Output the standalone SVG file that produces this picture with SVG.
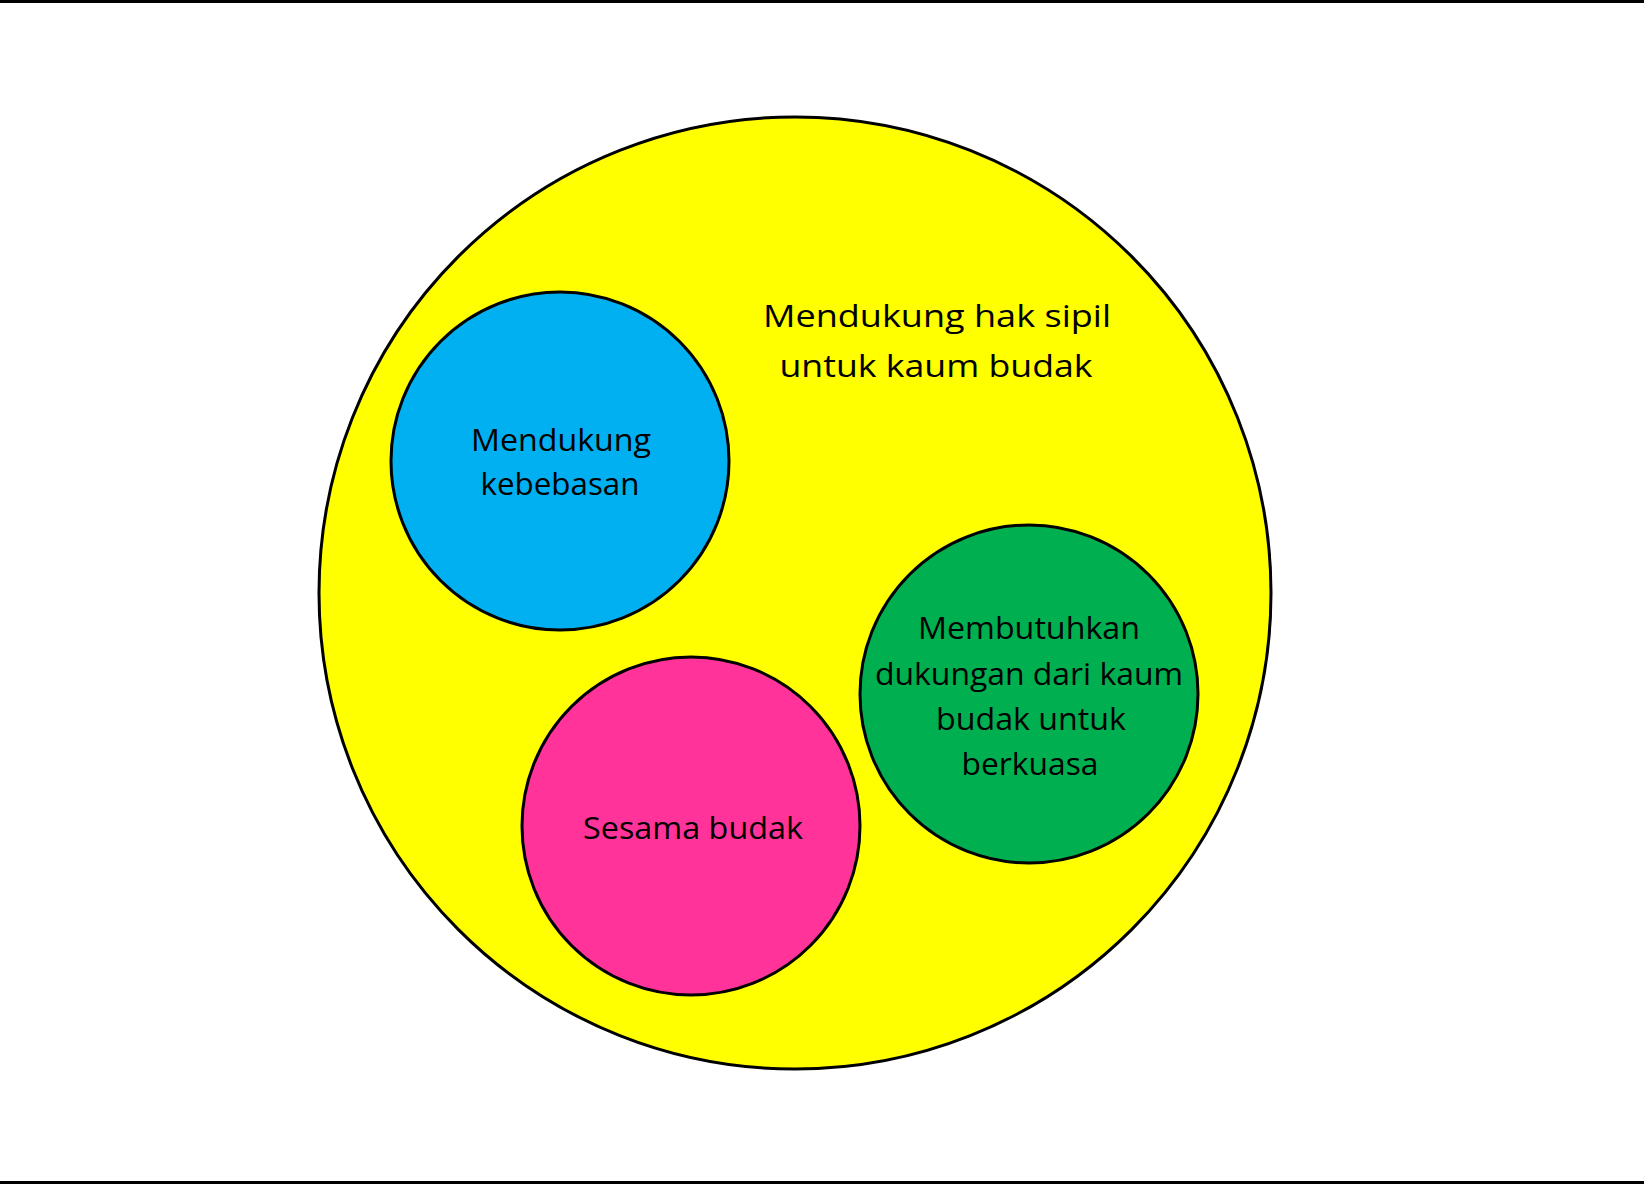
<svg xmlns="http://www.w3.org/2000/svg" width="1644" height="1184" viewBox="0 0 1644 1184">
<style>
.c{stroke:#000;stroke-width:3}
.t{font-family:"Open Sans","Noto Sans","Liberation Sans",sans-serif;font-size:31px;fill:#000;text-anchor:middle}
</style>
<rect x="0" y="0" width="1644" height="1184" fill="#fff"/>
<rect x="0" y="0" width="1644" height="3" fill="#000"/>
<rect x="0" y="1181" width="1644" height="3" fill="#000"/>
<g id="outer">
<circle class="c" cx="795" cy="593" r="476" fill="#FFFF00"/>
<text class="t" x="937" y="327" textLength="348" lengthAdjust="spacingAndGlyphs">Mendukung hak sipil</text>
<text class="t" x="936" y="377" textLength="313" lengthAdjust="spacingAndGlyphs">untuk kaum budak</text>
</g>
<g id="blue">
<circle class="c" cx="560" cy="461" r="169" fill="#00B0F0"/>
<text class="t" x="561" y="451" textLength="180" lengthAdjust="spacingAndGlyphs">Mendukung</text>
<text class="t" x="560" y="495" textLength="159" lengthAdjust="spacingAndGlyphs">kebebasan</text>
</g>
<g id="green">
<circle class="c" cx="1029" cy="694" r="169" fill="#00B050"/>
<text class="t" x="1029" y="639" textLength="222" lengthAdjust="spacingAndGlyphs">Membutuhkan</text>
<text class="t" x="1029" y="685" textLength="308" lengthAdjust="spacingAndGlyphs">dukungan dari kaum</text>
<text class="t" x="1031" y="730" textLength="190" lengthAdjust="spacingAndGlyphs">budak untuk</text>
<text class="t" x="1030" y="775" textLength="137" lengthAdjust="spacingAndGlyphs">berkuasa</text>
</g>
<g id="pink">
<circle class="c" cx="691" cy="826" r="169" fill="#FF3399"/>
<text class="t" x="693" y="839" textLength="220" lengthAdjust="spacingAndGlyphs">Sesama budak</text>
</g>
<g id="connectors"/>
</svg>
